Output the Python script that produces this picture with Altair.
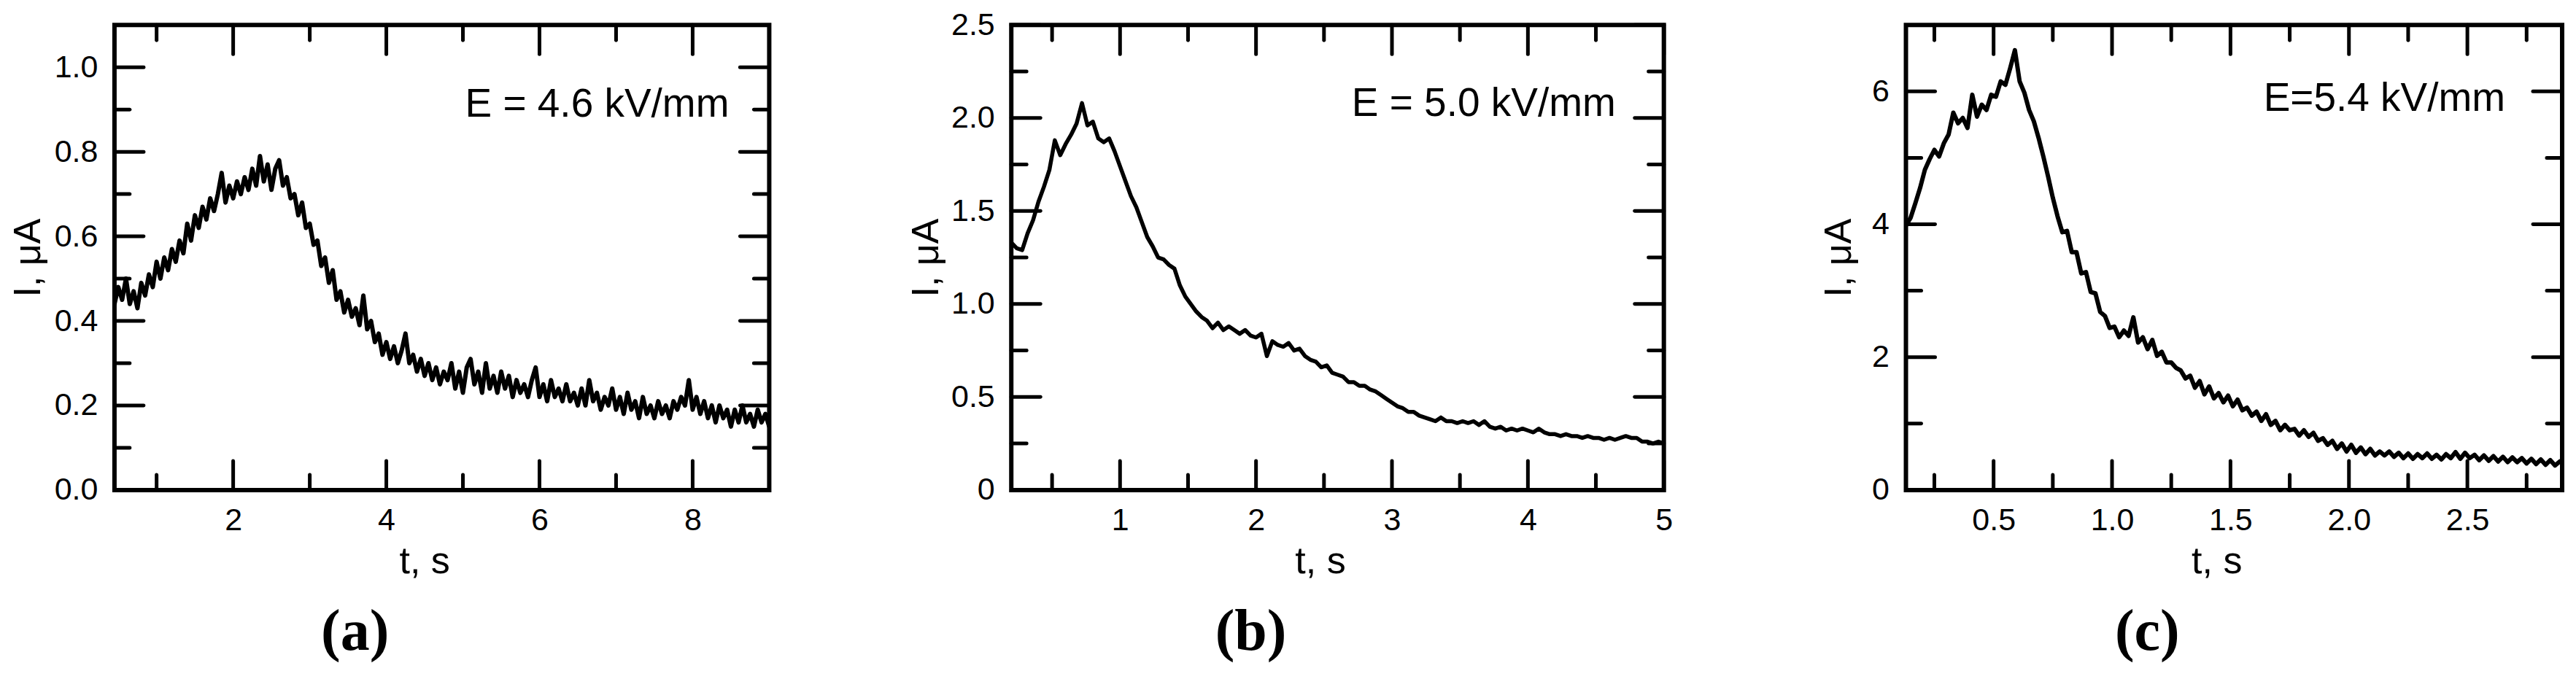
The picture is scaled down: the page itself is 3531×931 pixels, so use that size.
import altair as alt
import pandas as pd

FONT = "Liberation Sans"

# ---------------- panel (a): E = 4.6 kV/mm ----------------
t_a = [
    0.45, 0.50, 0.55, 0.60, 0.65, 0.70, 0.75, 0.80, 0.85, 0.90,
    0.95, 1.00, 1.05, 1.10, 1.15, 1.20, 1.25, 1.30, 1.35, 1.40,
    1.45, 1.50, 1.55, 1.60, 1.65, 1.70, 1.75, 1.80, 1.85, 1.90,
    1.95, 2.00, 2.05, 2.10, 2.15, 2.20, 2.25, 2.30, 2.35, 2.40,
    2.45, 2.50, 2.55, 2.60, 2.65, 2.70, 2.75, 2.80, 2.85, 2.90,
    2.95, 3.00, 3.05, 3.10, 3.15, 3.20, 3.25, 3.30, 3.35, 3.40,
    3.45, 3.50, 3.55, 3.60, 3.65, 3.70, 3.75, 3.80, 3.85, 3.90,
    3.95, 4.00, 4.05, 4.10, 4.15, 4.20, 4.25, 4.30, 4.35, 4.40,
    4.45, 4.50, 4.55, 4.60, 4.65, 4.70, 4.75, 4.80, 4.85, 4.90,
    4.95, 5.00, 5.05, 5.10, 5.15, 5.20, 5.25, 5.30, 5.35, 5.40,
    5.45, 5.50, 5.55, 5.60, 5.65, 5.70, 5.75, 5.80, 5.85, 5.90,
    5.95, 6.00, 6.05, 6.10, 6.15, 6.20, 6.25, 6.30, 6.35, 6.40,
    6.45, 6.50, 6.55, 6.60, 6.65, 6.70, 6.75, 6.80, 6.85, 6.90,
    6.95, 7.00, 7.05, 7.10, 7.15, 7.20, 7.25, 7.30, 7.35, 7.40,
    7.45, 7.50, 7.55, 7.60, 7.65, 7.70, 7.75, 7.80, 7.85, 7.90,
    7.95, 8.00, 8.05, 8.10, 8.15, 8.20, 8.25, 8.30, 8.35, 8.40,
    8.45, 8.50, 8.55, 8.60, 8.65, 8.70, 8.75, 8.80, 8.85, 8.90,
    8.95, 9.00,
]
i_a = [
    0.44, 0.48, 0.45, 0.50, 0.44, 0.47, 0.43, 0.49, 0.46, 0.51,
    0.48, 0.54, 0.50, 0.55, 0.52, 0.57, 0.54, 0.59, 0.56, 0.63,
    0.59, 0.65, 0.62, 0.67, 0.64, 0.69, 0.66, 0.70, 0.75, 0.68,
    0.72, 0.69, 0.73, 0.70, 0.74, 0.71, 0.76, 0.72, 0.79, 0.73,
    0.77, 0.71, 0.76, 0.78, 0.72, 0.74, 0.69, 0.70, 0.65, 0.68,
    0.62, 0.63, 0.58, 0.59, 0.53, 0.55, 0.49, 0.52, 0.45, 0.47,
    0.42, 0.45, 0.41, 0.43, 0.39, 0.46, 0.38, 0.40, 0.35, 0.37,
    0.32, 0.35, 0.31, 0.34, 0.30, 0.33, 0.37, 0.30, 0.32, 0.28,
    0.31, 0.27, 0.30, 0.26, 0.29, 0.25, 0.28, 0.26, 0.30, 0.24,
    0.28, 0.23, 0.29, 0.31, 0.25, 0.28, 0.23, 0.30, 0.24, 0.27,
    0.23, 0.28, 0.24, 0.27, 0.22, 0.26, 0.23, 0.25, 0.22, 0.26,
    0.29, 0.22, 0.25, 0.21, 0.26, 0.22, 0.24, 0.21, 0.25, 0.21,
    0.23, 0.20, 0.24, 0.20, 0.26, 0.21, 0.23, 0.19, 0.22, 0.20,
    0.24, 0.19, 0.22, 0.18, 0.23, 0.19, 0.21, 0.17, 0.22, 0.18,
    0.20, 0.17, 0.21, 0.18, 0.20, 0.17, 0.21, 0.19, 0.22, 0.20,
    0.26, 0.19, 0.22, 0.18, 0.21, 0.17, 0.20, 0.16, 0.20, 0.17,
    0.19, 0.15, 0.19, 0.16, 0.20, 0.16, 0.18, 0.15, 0.19, 0.16,
    0.18, 0.15,
]
xa_major = [2, 4, 6, 8]
xa_minor = [1, 3, 5, 7]
ya_major = [0.0, 0.2, 0.4, 0.6, 0.8, 1.0]
ya_minor = [0.1, 0.3, 0.5, 0.7, 0.9]

# ---------------- panel (b): E = 5.0 kV/mm ----------------
t_b = [
    0.20, 0.24, 0.28, 0.32, 0.36, 0.40, 0.44, 0.48, 0.52, 0.56,
    0.60, 0.64, 0.68, 0.72, 0.76, 0.80, 0.84, 0.88, 0.92, 0.96,
    1.00, 1.04, 1.08, 1.12, 1.16, 1.20, 1.24, 1.28, 1.32, 1.36,
    1.40, 1.44, 1.48, 1.52, 1.56, 1.60, 1.64, 1.68, 1.72, 1.76,
    1.80, 1.84, 1.88, 1.92, 1.96, 2.00, 2.04, 2.08, 2.12, 2.16,
    2.20, 2.24, 2.28, 2.32, 2.36, 2.40, 2.44, 2.48, 2.52, 2.56,
    2.60, 2.64, 2.68, 2.72, 2.76, 2.80, 2.84, 2.88, 2.92, 2.96,
    3.00, 3.04, 3.08, 3.12, 3.16, 3.20, 3.24, 3.28, 3.32, 3.36,
    3.40, 3.44, 3.48, 3.52, 3.56, 3.60, 3.64, 3.68, 3.72, 3.76,
    3.80, 3.84, 3.88, 3.92, 3.96, 4.00, 4.04, 4.08, 4.12, 4.16,
    4.20, 4.24, 4.28, 4.32, 4.36, 4.40, 4.44, 4.48, 4.52, 4.56,
    4.60, 4.64, 4.68, 4.72, 4.76, 4.80, 4.84, 4.88, 4.92, 4.96,
    5.00,
]
i_b = [
    1.33, 1.30, 1.29, 1.38, 1.45, 1.55, 1.63, 1.72, 1.88, 1.80,
    1.86, 1.91, 1.97, 2.08, 1.96, 1.98, 1.89, 1.87, 1.89, 1.82,
    1.74, 1.66, 1.58, 1.52, 1.44, 1.36, 1.31, 1.25, 1.24, 1.21,
    1.19, 1.10, 1.04, 1.00, 0.96, 0.93, 0.91, 0.87, 0.90, 0.86,
    0.88, 0.86, 0.84, 0.86, 0.83, 0.82, 0.84, 0.72, 0.80, 0.78,
    0.77, 0.79, 0.75, 0.76, 0.72, 0.70, 0.69, 0.66, 0.67, 0.63,
    0.62, 0.61, 0.58, 0.58, 0.56, 0.56, 0.54, 0.53, 0.51, 0.49,
    0.47, 0.45, 0.44, 0.42, 0.42, 0.40, 0.39, 0.38, 0.37, 0.39,
    0.37, 0.37, 0.36, 0.37, 0.36, 0.37, 0.35, 0.37, 0.34, 0.33,
    0.34, 0.32, 0.33, 0.32, 0.33, 0.32, 0.31, 0.33, 0.31, 0.30,
    0.30, 0.29, 0.30, 0.29, 0.29, 0.28, 0.29, 0.28, 0.28, 0.27,
    0.28, 0.27, 0.28, 0.29, 0.28, 0.28, 0.26, 0.26, 0.25, 0.26,
    0.25,
]
xb_major = [1, 2, 3, 4, 5]
xb_minor = [0.5, 1.5, 2.5, 3.5, 4.5]
yb_major = [0.0, 0.5, 1.0, 1.5, 2.0, 2.5]
yb_minor = [0.25, 0.75, 1.25, 1.75, 2.25]

# ---------------- panel (c): E = 5.4 kV/mm ----------------
t_c = [
    0.13, 0.15, 0.17, 0.19, 0.21, 0.23, 0.25, 0.27, 0.29, 0.31,
    0.33, 0.35, 0.37, 0.39, 0.41, 0.43, 0.45, 0.47, 0.49, 0.51,
    0.53, 0.55, 0.57, 0.59, 0.61, 0.63, 0.65, 0.67, 0.69, 0.71,
    0.73, 0.75, 0.77, 0.79, 0.81, 0.83, 0.85, 0.87, 0.89, 0.91,
    0.93, 0.95, 0.97, 0.99, 1.01, 1.03, 1.05, 1.07, 1.09, 1.11,
    1.13, 1.15, 1.17, 1.19, 1.21, 1.23, 1.25, 1.27, 1.29, 1.31,
    1.33, 1.35, 1.37, 1.39, 1.41, 1.43, 1.45, 1.47, 1.49, 1.51,
    1.53, 1.55, 1.57, 1.59, 1.61, 1.63, 1.65, 1.67, 1.69, 1.71,
    1.73, 1.75, 1.77, 1.79, 1.81, 1.83, 1.85, 1.87, 1.89, 1.91,
    1.93, 1.95, 1.97, 1.99, 2.01, 2.03, 2.05, 2.07, 2.09, 2.11,
    2.13, 2.15, 2.17, 2.19, 2.21, 2.23, 2.25, 2.27, 2.29, 2.31,
    2.33, 2.35, 2.37, 2.39, 2.41, 2.43, 2.45, 2.47, 2.49, 2.51,
    2.53, 2.55, 2.57, 2.59, 2.61, 2.63, 2.65, 2.67, 2.69, 2.71,
    2.73, 2.75, 2.77, 2.79, 2.81, 2.83, 2.85, 2.87, 2.89,
]
i_c = [
    3.98, 4.10, 4.32, 4.55, 4.82, 4.98, 5.12, 5.02, 5.22, 5.35,
    5.68, 5.52, 5.60, 5.45, 5.95, 5.62, 5.80, 5.72, 5.95, 5.92,
    6.15, 6.10, 6.35, 6.62, 6.15, 5.98, 5.72, 5.55, 5.30, 5.02,
    4.72, 4.40, 4.12, 3.88, 3.90, 3.58, 3.58, 3.26, 3.28, 2.98,
    2.96, 2.68, 2.62, 2.44, 2.46, 2.30, 2.40, 2.32, 2.60, 2.22,
    2.30, 2.12, 2.26, 2.02, 2.08, 1.92, 1.92, 1.84, 1.80, 1.68,
    1.72, 1.54, 1.64, 1.44, 1.56, 1.38, 1.46, 1.32, 1.42, 1.26,
    1.36, 1.20, 1.24, 1.12, 1.18, 1.04, 1.14, 0.98, 1.04, 0.90,
    0.98, 0.90, 0.92, 0.82, 0.90, 0.80, 0.86, 0.74, 0.78, 0.68,
    0.74, 0.62, 0.70, 0.58, 0.68, 0.56, 0.64, 0.54, 0.62, 0.52,
    0.58, 0.52, 0.58, 0.50, 0.56, 0.48, 0.55, 0.47, 0.54, 0.48,
    0.55, 0.47, 0.53, 0.46, 0.54, 0.48, 0.57, 0.47, 0.56, 0.48,
    0.53, 0.45, 0.52, 0.44, 0.51, 0.43, 0.50, 0.42, 0.49, 0.42,
    0.48, 0.40, 0.47, 0.39, 0.46, 0.38, 0.45, 0.37, 0.43,
]
xc_major = [0.5, 1.0, 1.5, 2.0, 2.5]
xc_minor = [0.25, 0.75, 1.25, 1.75, 2.25, 2.75]
yc_major = [0, 2, 4, 6]
yc_minor = [1, 3, 5]

H = 638
MAJOR_LEN = 40
MINOR_LEN = 21


def panel(t, cur, xdom, ydom, xmaj, xmin, ymaj, ymin, xfmt, ylabel_expr,
          width, ytitle_x, note, note_right, note_base, tag, line_w):
    xs = alt.Scale(domain=xdom, nice=False, zero=False)
    ys = alt.Scale(domain=ydom, nice=False, zero=False)
    x_axis = alt.Axis(values=xmaj, format=xfmt, labelPadding=21,
                      titleX=width / 2 - 24, titleY=114, titleBaseline="alphabetic")
    y_axis = alt.Axis(values=ymaj, labelExpr=ylabel_expr, labelPadding=23,
                      titleX=ytitle_x, titleBaseline="alphabetic")

    def X():
        return alt.X("t:Q", scale=xs, title="t, s", axis=x_axis)

    def Y():
        return alt.Y("I:Q", scale=ys, title="I, μA", axis=y_axis)

    curve = alt.Chart(pd.DataFrame({"t": t, "I": cur})).mark_line(
        color="black", strokeWidth=line_w, strokeJoin="round", strokeCap="round", clip=True
    ).encode(x=X(), y=Y())
    layers = [curve]
    for vals, L in ((ymaj, MAJOR_LEN), (ymin, MINOR_LEN)):
        base = alt.Chart(pd.DataFrame({"I": vals})).mark_rule(
            color="black", strokeWidth=5, strokeCap="round")
        layers.append(base.encode(y=Y(), x=alt.value(0), x2=alt.value(L)))
        layers.append(base.encode(y=Y(), x=alt.value(width), x2=alt.value(width - L)))
    for vals, L in ((xmaj, MAJOR_LEN), (xmin, MINOR_LEN)):
        base = alt.Chart(pd.DataFrame({"t": vals})).mark_rule(
            color="black", strokeWidth=5, strokeCap="round")
        layers.append(base.encode(x=X(), y=alt.value(H), y2=alt.value(H - L)))
        layers.append(base.encode(x=X(), y=alt.value(0), y2=alt.value(L)))
    txt = alt.Chart(pd.DataFrame({"s": [note]})).mark_text(
        align="right", baseline="alphabetic", font=FONT, fontSize=55, color="black"
    ).encode(x=alt.value(width - note_right), y=alt.value(note_base), text="s:N")
    layers.append(txt)
    return alt.layer(*layers).properties(
        width=width, height=H,
        title=alt.TitleParams(tag, orient="bottom", frame="group", anchor="middle",
                              dx=-119, offset=95, baseline="alphabetic",
                              font="Liberation Serif", fontSize=80,
                              fontWeight="bold", color="black"),
    )


pa = panel(t_a, i_a, [0.45, 9.0], [0, 1.1], xa_major, xa_minor, ya_major, ya_minor,
           "d", "format(datum.value, '.1f')", 898, -102,
           "E = 4.6 kV/mm", 55, 126, "(a)", 6)
pb = panel(t_b, i_b, [0.2, 5.0], [0, 2.5], xb_major, xb_minor, yb_major, yb_minor,
           "d", "datum.value == 0 ? '0' : format(datum.value, '.1f')", 895, -101,
           "E = 5.0 kV/mm", 66, 125, "(b)", 5.5)
pc = panel(t_c, i_c, [0.13, 2.9], [0, 7], xc_major, xc_minor, yc_major, yc_minor,
           ".1f", "format(datum.value, 'd')", 900, -76,
           "E=5.4 kV/mm", 78, 118, "(c)", 6)

chart = alt.hconcat(pa, pb, pc, spacing=332, bounds="flush").properties(
    padding={"left": 2, "top": 2, "right": 5, "bottom": 5},
    background="white",
).configure_view(
    stroke="black", strokeWidth=6
).configure_axis(
    domain=False, ticks=False, tickSize=0, grid=False,
    labelFont=FONT, labelFontSize=43, labelColor="black",
    labelFlush=False, labelOverlap=False,
    titleFont=FONT, titleFontSize=52, titleFontWeight="normal", titleColor="black",
)

chart.save("out.html", embed_options={"renderer": "svg", "actions": False})
